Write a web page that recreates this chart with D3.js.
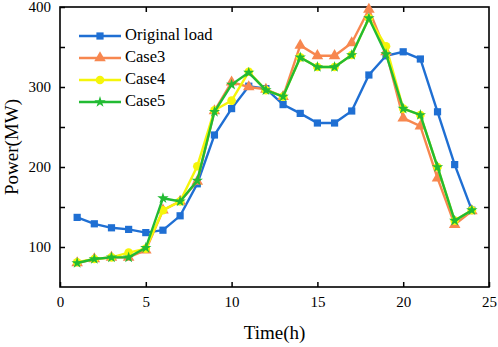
<!DOCTYPE html>
<html>
<head>
<meta charset="utf-8">
<script src="https://cdn.jsdelivr.net/npm/d3@7"></script>
<style>
  body { margin: 0; background: #fff; }
  svg text { font-family: "Liberation Serif", "Times New Roman", Times, "DejaVu Serif", serif !important; }
</style>
</head>
<body>
<div id="chart"></div>
<script>
// data
const hours = [1,2,3,4,5,6,7,8,9,10,11,12,13,14,15,16,17,18,19,20,21,22,23,24];
const originalLoad = [137,129,124,122,118,121,139,179,240,273,301,298,278,267,255,255,270,315,339,344,335,269,203,146];
const case3 = [80,85,87,87,96,146,157,182,270,306,300,297,288,352,339,339,355,397,344,261,251,186,128,145];
const case4 = [81,85,87,93,98,146,157,201,271,283,319,296,288,337,325,325,340,386,351,273,265,200,133,146];
const case5 = [80,85,87,87,99,161,157,183,269,303,318,296,288,337,325,325,340,386,341,273,265,200,133,146];
const seriesNames = ["Original load", "Case3", "Case4", "Case5"];
const xTicks = [0,5,10,15,20,25];
const yTicks = [100,200,300,400];

// margin convention
const margin = {top: 7, right: 9, bottom: 60, left: 60};
const width = 498, height = 347;
const visWidth = width - margin.left - margin.right;
const visHeight = height - margin.top - margin.bottom;

const svg = d3.select("#chart").append("svg")
    .attr("width", width)
    .attr("height", height);

const g = svg.append("g")
    .attr("transform", `translate(${margin.left}, ${margin.top})`);

const x = d3.scaleLinear().domain([0, 25]).range([0, visWidth]);
const y = d3.scaleLinear().domain([50, 400]).range([visHeight, 0]);

const series = [
  {name: seriesNames[0], values: originalLoad, color: "#1f6fd3", symbol: d3.symbolSquare, size: 52},
  {name: seriesNames[1], values: case3, color: "#f7874f", symbol: d3.symbolTriangle, size: 58},
  {name: seriesNames[2], values: case4, color: "#f5f50a", symbol: d3.symbolCircle, size: 58},
  {name: seriesNames[3], values: case5, color: "#22bb33", symbol: d3.symbolStar, size: 40}
];

// axes, ticks pointing inward, mirrored on top and right
const minorY = [100,150,200,250,300,350,400];
g.append("g")
    .attr("transform", `translate(0, ${visHeight})`)
    .call(d3.axisBottom(x).tickValues(xTicks).tickSizeInner(-5).tickSizeOuter(0).tickPadding(9))
    .call(a => a.select(".domain").remove());

g.append("g")
    .call(d3.axisLeft(y).tickValues(minorY).tickSizeInner(-5).tickSizeOuter(0).tickPadding(9)
      .tickFormat(d => yTicks.includes(d) ? d : ""))
    .call(a => a.select(".domain").remove());

g.append("g")
    .call(d3.axisTop(x).tickValues(xTicks.slice(1, -1)).tickSizeInner(-5).tickSizeOuter(0).tickFormat(""))
    .call(a => a.select(".domain").remove());

g.append("g")
    .attr("transform", `translate(${visWidth}, 0)`)
    .call(d3.axisRight(y).tickValues(minorY.slice(0, -1)).tickSizeInner(-5).tickSizeOuter(0).tickFormat(""))
    .call(a => a.select(".domain").remove());

g.selectAll(".tick line").attr("stroke", "#000").attr("stroke-width", 1.5);
g.selectAll(".tick text")
    .attr("font-size", 15)
    .attr("fill", "#000");

// frame
g.append("rect")
    .attr("width", visWidth)
    .attr("height", visHeight)
    .attr("fill", "none")
    .attr("stroke", "#000")
    .attr("stroke-width", 1.6);

// axis titles
g.append("text")
    .attr("x", visWidth / 2)
    .attr("y", visHeight + 52)
    .attr("text-anchor", "middle")
    .attr("font-size", 19)
    .text("Time(h)");

g.append("text")
    .attr("transform", `translate(${-42}, ${visHeight / 2}) rotate(-90)`)
    .attr("text-anchor", "middle")
    .attr("font-size", 19)
    .text("Power(MW)");

// draw lines and markers
const line = d3.line()
    .x((d, i) => x(hours[i]))
    .y(d => y(d));

series.forEach(s => {
  g.append("path")
      .datum(s.values)
      .attr("fill", "none")
      .attr("stroke", s.color)
      .attr("stroke-width", 2.4)
      .attr("d", line);

  g.selectAll(null)
    .data(s.values)
    .join("path")
      .attr("transform", (d, i) => `translate(${x(hours[i])}, ${y(d)})`)
      .attr("d", d3.symbol(s.symbol, s.size))
      .attr("fill", s.color);
});

// legend
const legend = g.append("g")
    .attr("transform", "translate(19, 29)")
    .selectAll("g")
    .data(series)
    .join("g")
      .attr("transform", (d, i) => `translate(0, ${i * 22})`);

legend.append("line")
    .attr("x1", 0)
    .attr("x2", 42)
    .attr("stroke", d => d.color)
    .attr("stroke-width", 2.4);

legend.append("path")
    .attr("transform", "translate(21, 0)")
    .attr("d", d => d3.symbol(d.symbol, d.size)())
    .attr("fill", d => d.color);

legend.append("text")
    .attr("x", 46)
    .attr("dominant-baseline", "middle")
    .attr("font-size", 16.5)
    .text(d => d.name);
</script>
</body>
</html>
